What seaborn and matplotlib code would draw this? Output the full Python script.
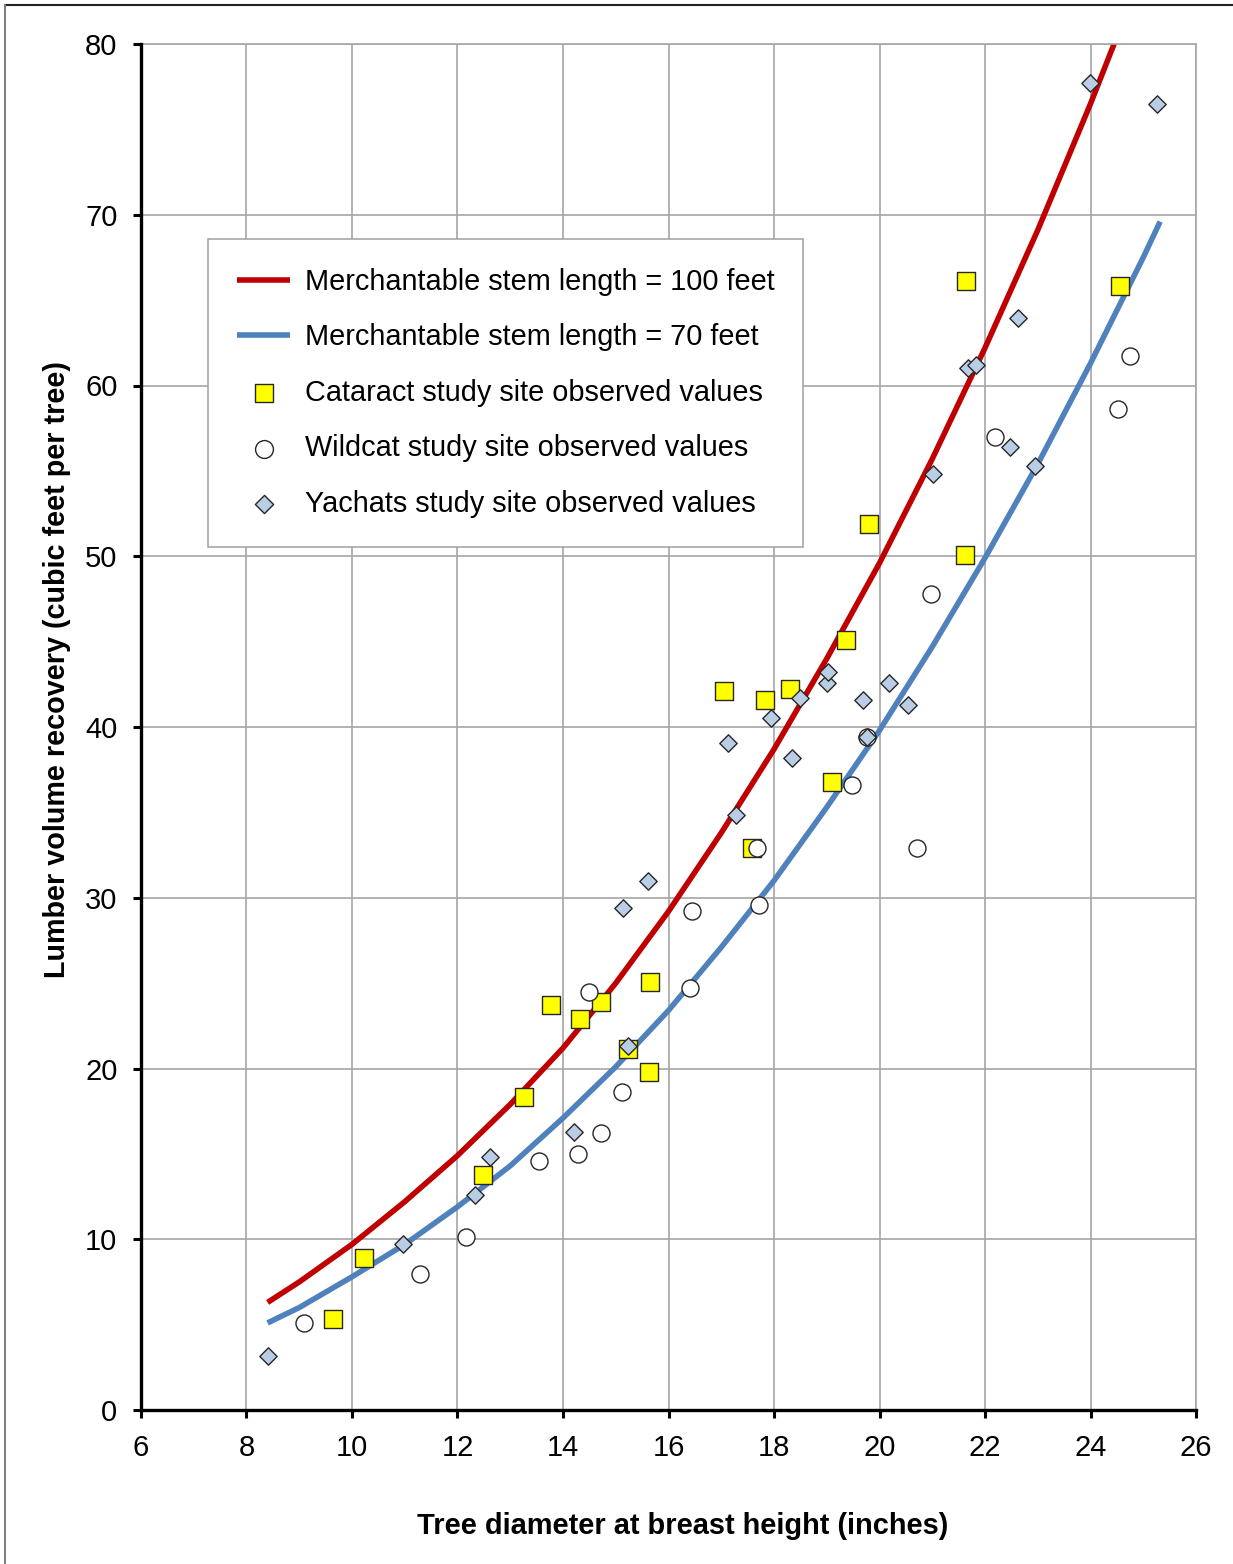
import matplotlib
matplotlib.use("Agg")
import matplotlib.pyplot as plt
import seaborn as sns
from matplotlib.lines import Line2D

# ---- curve values ----
curve100_dbh = [8.4, 9, 10, 11, 12, 13, 14, 15, 16, 17, 18, 19, 20, 21, 22, 23, 24, 24.6]
curve100_vol = [6.3, 7.5, 9.7, 12.2, 14.9, 17.9, 21.2, 25.0, 29.2, 33.8, 38.7, 44.0, 49.6, 55.7, 62.2, 69.1, 76.5, 81.2]
curve70_dbh = [8.4, 9, 10, 11, 12, 13, 14, 15, 16, 17, 18, 19, 20, 21, 22, 23, 24, 25, 25.32]
curve70_vol = [5.1, 6.0, 7.8, 9.7, 11.9, 14.3, 17.1, 20.1, 23.4, 27.1, 31.0, 35.3, 39.8, 44.7, 49.9, 55.4, 61.3, 67.5, 69.6]

# ---- observed values ----
cataract_dbh = [9.64, 10.23, 12.48, 13.26, 13.77, 14.32, 14.72, 15.23, 15.65, 15.63,
                17.05, 17.83, 17.58, 18.30, 19.10, 19.36, 19.80, 21.62, 21.64, 24.56]
cataract_vol = [5.33, 8.9, 13.76, 18.33, 23.7, 22.9, 23.9, 21.14, 25.07, 19.8,
                42.1, 41.6, 32.9, 42.2, 36.8, 45.1, 51.9, 50.1, 66.1, 65.8]

wildcat_dbh = [9.09, 11.29, 12.16, 13.55, 14.28, 14.72, 15.12, 14.49, 16.41, 16.45,
               17.68, 17.72, 19.48, 19.76, 20.71, 20.98, 22.19, 24.52, 24.75]
wildcat_vol = [5.1, 7.97, 10.13, 14.58, 14.99, 16.2, 18.6, 24.5, 24.7, 29.2,
               32.9, 29.6, 36.6, 39.4, 32.9, 47.8, 57.0, 58.6, 61.7]

yachats_dbh = [8.41, 10.97, 12.33, 12.62, 14.21, 15.14, 15.23, 15.61, 17.13, 17.28,
               17.94, 18.34, 18.49, 19.00, 19.02, 19.69, 19.76, 20.18, 20.54, 21.01,
               21.68, 21.83, 22.47, 22.63, 22.95, 23.99, 25.26]
yachats_vol = [3.16, 9.72, 12.6, 14.8, 16.3, 29.4, 21.3, 31.0, 39.06, 34.85,
               40.5, 38.2, 41.7, 42.6, 43.2, 41.6, 39.4, 42.6, 41.3, 54.8,
               61.0, 61.2, 56.4, 63.95, 55.3, 77.7, 76.5]

x_ticks = [6, 8, 10, 12, 14, 16, 18, 20, 22, 24, 26]
y_ticks = [0, 10, 20, 30, 40, 50, 60, 70, 80]

sns.set_theme(style="white")
plt.rcParams['font.family'] = ['Liberation Sans', 'DejaVu Sans']

W, H = 1233, 1564
fig = plt.figure(figsize=(W / 100, H / 100), dpi=100)
fig.patch.set_facecolor('white')
ax = fig.add_axes([141 / W, 1 - 1410 / H, (1196 - 141) / W, (1410 - 44) / H])

sns.lineplot(x=curve100_dbh, y=curve100_vol, ax=ax, color='#C00000', lw=4.0,
             sort=False, estimator=None, label='Merchantable stem length = 100 feet',
             solid_capstyle='butt', solid_joinstyle='round', zorder=2)
sns.lineplot(x=curve70_dbh, y=curve70_vol, ax=ax, color='#4F81BD', lw=4.0,
             sort=False, estimator=None, label='Merchantable stem length = 70 feet',
             solid_capstyle='butt', solid_joinstyle='round', zorder=2)
sns.scatterplot(x=cataract_dbh, y=cataract_vol, ax=ax, marker='s', s=150,
                color='#FFFF00', edgecolor='#262626', linewidth=1.0,
                label='Cataract study site observed values', zorder=3)
sns.scatterplot(x=wildcat_dbh, y=wildcat_vol, ax=ax, marker='o', s=150,
                color='white', edgecolor='#262626', linewidth=1.0,
                label='Wildcat study site observed values', zorder=3)
sns.scatterplot(x=yachats_dbh, y=yachats_vol, ax=ax, marker='D', s=78,
                color='#B9CDE5', edgecolor='#262626', linewidth=1.0,
                label='Yachats study site observed values', zorder=3)

ax.set_xlim(6, 26)
ax.set_ylim(0, 80)
ax.set_xticks(x_ticks)
ax.set_yticks(y_ticks)
ax.set_xticklabels([str(v) for v in x_ticks])
ax.set_yticklabels([str(v) for v in y_ticks])
ax.grid(True, color='#A6A6A6', lw=1.2)
ax.set_axisbelow(True)

for side in ['left', 'bottom']:
    ax.spines[side].set_color('black')
    ax.spines[side].set_linewidth(2.4)
    ax.spines[side].set_zorder(4)
for side in ['top', 'right']:
    ax.spines[side].set_color('#A6A6A6')
    ax.spines[side].set_linewidth(1.2)

ax.tick_params(axis='both', which='major', direction='out', length=6, width=2.2,
               color='black', labelsize=21, pad=11, labelcolor='black',
               bottom=True, left=True, top=False, right=False)

ax.set_xlabel('Tree diameter at breast height (inches)', fontsize=20.9,
              fontweight='bold', color='black')
ax.set_ylabel('Lumber volume recovery (cubic feet per tree)', fontsize=20.7,
              fontweight='bold', color='black')
ax.xaxis.set_label_coords((682.5 - 141) / 1055, (1410 - 1526) / 1366)
ax.xaxis.label.set_va('center')
ax.yaxis.set_label_coords((57 - 141) / 1055, (1410 - 670) / 1366)
ax.yaxis.label.set_va('center')

leg = ax.legend(loc='upper left', bbox_to_anchor=((208 - 141) / 1055, (1410 - 239) / 1366),
                borderaxespad=0, frameon=True, fancybox=False, edgecolor='#A0A0A0',
                facecolor='white', framealpha=1, fontsize=20.8, handlelength=1.85,
                handletextpad=0.5, borderpad=1.0, labelspacing=0.95, markerscale=1.05)
leg.get_frame().set_linewidth(1.1)
for t in leg.get_texts():
    t.set_color('black')

# figure border (top and left visible)
fig.add_artist(Line2D([4.5 / W, 1], [1 - 4.5 / H, 1 - 4.5 / H], transform=fig.transFigure,
                      color='#222222', lw=1.5))
fig.add_artist(Line2D([4.5 / W, 4.5 / W], [0, 1 - 4.5 / H], transform=fig.transFigure,
                      color='#808080', lw=1.5))

fig.savefig('out.png', dpi=100, facecolor='white')
